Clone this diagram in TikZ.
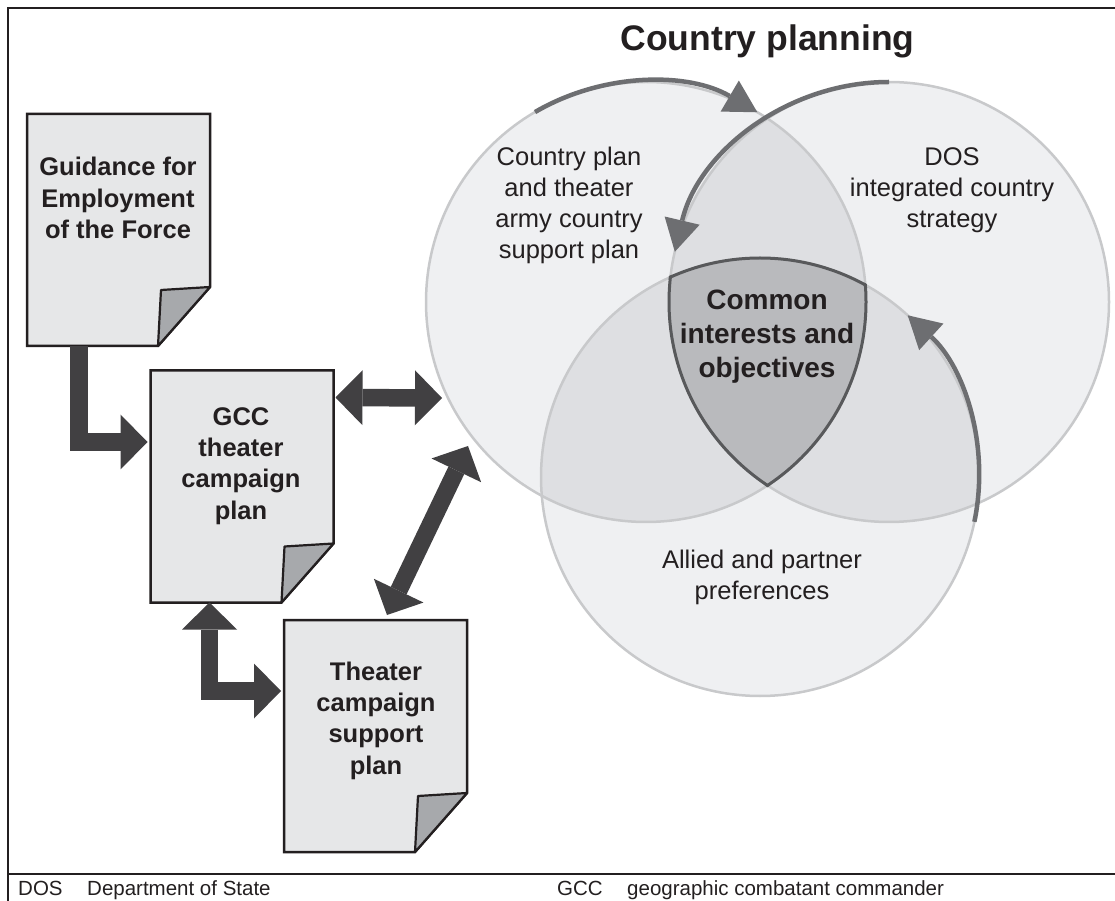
\documentclass[tikz,border=0pt]{standalone}
\usepackage{fontspec}
\setmainfont{Liberation Sans}
\usetikzlibrary{arrows.meta,calc}
\definecolor{docfill}{RGB}{230,231,232}
\definecolor{flapfill}{RGB}{167,169,172}
\definecolor{docline}{RGB}{35,31,32}
\definecolor{arrowdark}{RGB}{65,64,66}
\definecolor{arcgray}{RGB}{109,110,113}
\definecolor{csingle}{RGB}{239,240,242}
\definecolor{cdouble}{RGB}{222,223,226}
\definecolor{ctriple}{RGB}{185,186,189}
\definecolor{coutline}{RGB}{200,201,203}
\definecolor{tline}{RGB}{88,89,91}
\tikzset{
  docnode/.style={minimum width=183pt, minimum height=232pt, inner sep=0pt, outer sep=0pt},
  docbody/.style={fill=docfill, draw=docline, line width=2.5pt, line join=miter},
  docflap/.style={fill=flapfill, draw=docline, line width=2.2pt, line join=round},
  doctext/.style={font=\fontsize{25.5}{31.3}\selectfont\bfseries, align=center, text=docline, inner sep=0pt},
  circtext/.style={font=\fontsize{25.5}{31}\selectfont, align=center, text=docline, inner sep=0pt},
  commontext/.style={font=\fontsize{28}{34}\selectfont\bfseries, align=center, text=docline, inner sep=0pt},
  titletext/.style={font=\fontsize{35.5}{40}\selectfont\bfseries, text=docline, inner sep=0pt},
  legendtext/.style={font=\fontsize{20.5}{24}\selectfont, text=docline, inner sep=0pt, anchor=base west},
  frameline/.style={draw=docline, line width=2.3pt},
  fathead/.tip={Triangle[length=27pt,width=55pt,line width=0pt]},
  archead/.tip={Triangle[length=32pt,width=36pt,line width=0pt]},
  fat/.style={draw=arrowdark, line width=17.5pt, line join=miter},
  cyc/.style={draw=arcgray, line width=4.5pt, -archead},
  circline/.style={draw=coutline, line width=2.5pt},
  tripline/.style={draw=tline, line width=3pt},
}
\newcommand\docpage[1]{%
  \filldraw[docbody] (#1.north west) -- (#1.north east) -- ($(#1.south east)+(0,59)$)
     -- ($(#1.south east)+(-52,0)$) -- (#1.south west) -- cycle;
  \filldraw[docflap] ($(#1.south east)+(0,59)$) -- ($(#1.south east)+(-49,56)$)
     -- ($(#1.south east)+(-52,0)$) -- cycle;
}
\begin{document}
\begin{tikzpicture}[x=1pt,y=1pt]
\useasboundingbox (0,0) rectangle (1115,900);
\fill[white] (0,0) rectangle (1115,900);
% frame
\draw[frameline] (1130,892) -- (8,892) -- (8,-10);
\draw[frameline] (8,26) -- (1130,26);

% circle centres
\coordinate (c1) at (646,598);
\coordinate (c2) at (889,598);
\coordinate (c3) at (760,423);

% single fills
\fill[csingle] (c1) circle[radius=220];
\fill[csingle] (c2) circle[radius=220];
\fill[csingle] (c3) circle[radius=219];
% pairwise overlaps
\begin{scope}
  \clip (c1) circle[radius=220];
  \fill[cdouble] (c2) circle[radius=220];
  \fill[cdouble] (c3) circle[radius=219];
\end{scope}
\begin{scope}
  \clip (c2) circle[radius=220];
  \fill[cdouble] (c3) circle[radius=219];
\end{scope}
% outlines
\draw[circline] (c1) circle[radius=220];
\draw[circline] (c2) circle[radius=220];
\draw[circline] (c3) circle[radius=219];
% triple overlap
\begin{scope}
  \clip (c1) circle[radius=220];
  \clip (c2) circle[radius=220];
  \fill[ctriple] (c3) circle[radius=219];
\end{scope}
\begin{scope}
  \clip (c2) circle[radius=221.5];
  \clip (c3) circle[radius=220.5];
  \draw[tripline] (c1) circle[radius=220];
\end{scope}
\begin{scope}
  \clip (c1) circle[radius=221.5];
  \clip (c3) circle[radius=220.5];
  \draw[tripline] (c2) circle[radius=220];
\end{scope}
\begin{scope}
  \clip (c1) circle[radius=221.5];
  \clip (c2) circle[radius=221.5];
  \draw[tripline] (c3) circle[radius=219];
\end{scope}

% cycle arrows along the circles
\draw[cyc] ($(c1)+(120.3:220)$) arc[start angle=120.3, end angle=59.6, radius=220];
\draw[cyc] ($(c2)+(90:220)$) arc[start angle=90, end angle=166.8, radius=220];
\draw[cyc] ($(c3)+(-11.8:219)$) arc[start angle=-11.8, end angle=47.6, radius=219];

% circle texts
\node[titletext] (title) at (767.5,859) {Country planning};
\node[circtext] (cp) at (569,695) {Country plan\\and theater\\army country\\support plan};
\node[circtext] (dos) at (952,710) {DOS\\integrated country\\strategy};
\node[commontext] (common) at (767,563) {Common\\interests and\\objectives};
\node[circtext] (allied) at (762,323) {Allied and partner\\preferences};

% documents
\node[docnode] (gef) at (118.5,670) {};
\node[docnode] (gcc) at (242,413.5) {};
\node[docnode] (tcs) at (375.5,164) {};
\docpage{gef}
\docpage{gcc}
\docpage{tcs}
\node[doctext] (geft) at (118,702) {Guidance for\\Employment\\of the Force};
\node[doctext] (gcct) at (241,434) {GCC\\theater\\campaign\\plan};
\node[doctext] (tcst) at (376,179.5) {Theater\\campaign\\support\\plan};

% fat connectors
\coordinate (cE) at (442,502);
\coordinate (dE) at (468,454);
\draw[fat, -fathead] ($(gef.south west)+(52,0)$) |- ($(gcc.north west)+(-3,-71.5)$);
\draw[fat, fathead-fathead] ($(gcc.south west)+(59,0)$) |- ($(tcs.north west)+(-3,-71)$);
\draw[fat, fathead-fathead] ($(gcc.north east)+(2,-27)$) -- (cE);
\draw[fat, fathead-fathead] ($(tcs.north west)+(103,5)$) -- (dE);

% legend
\node[legendtext] (l1) at (18,4.5) {DOS};
\node[legendtext] (l2) at (87,4.5) {Department of State};
\node[legendtext] (l3) at (557,4.5) {GCC};
\node[legendtext] (l4) at (627,4.5) {geographic combatant commander};
\end{tikzpicture}
\end{document}
